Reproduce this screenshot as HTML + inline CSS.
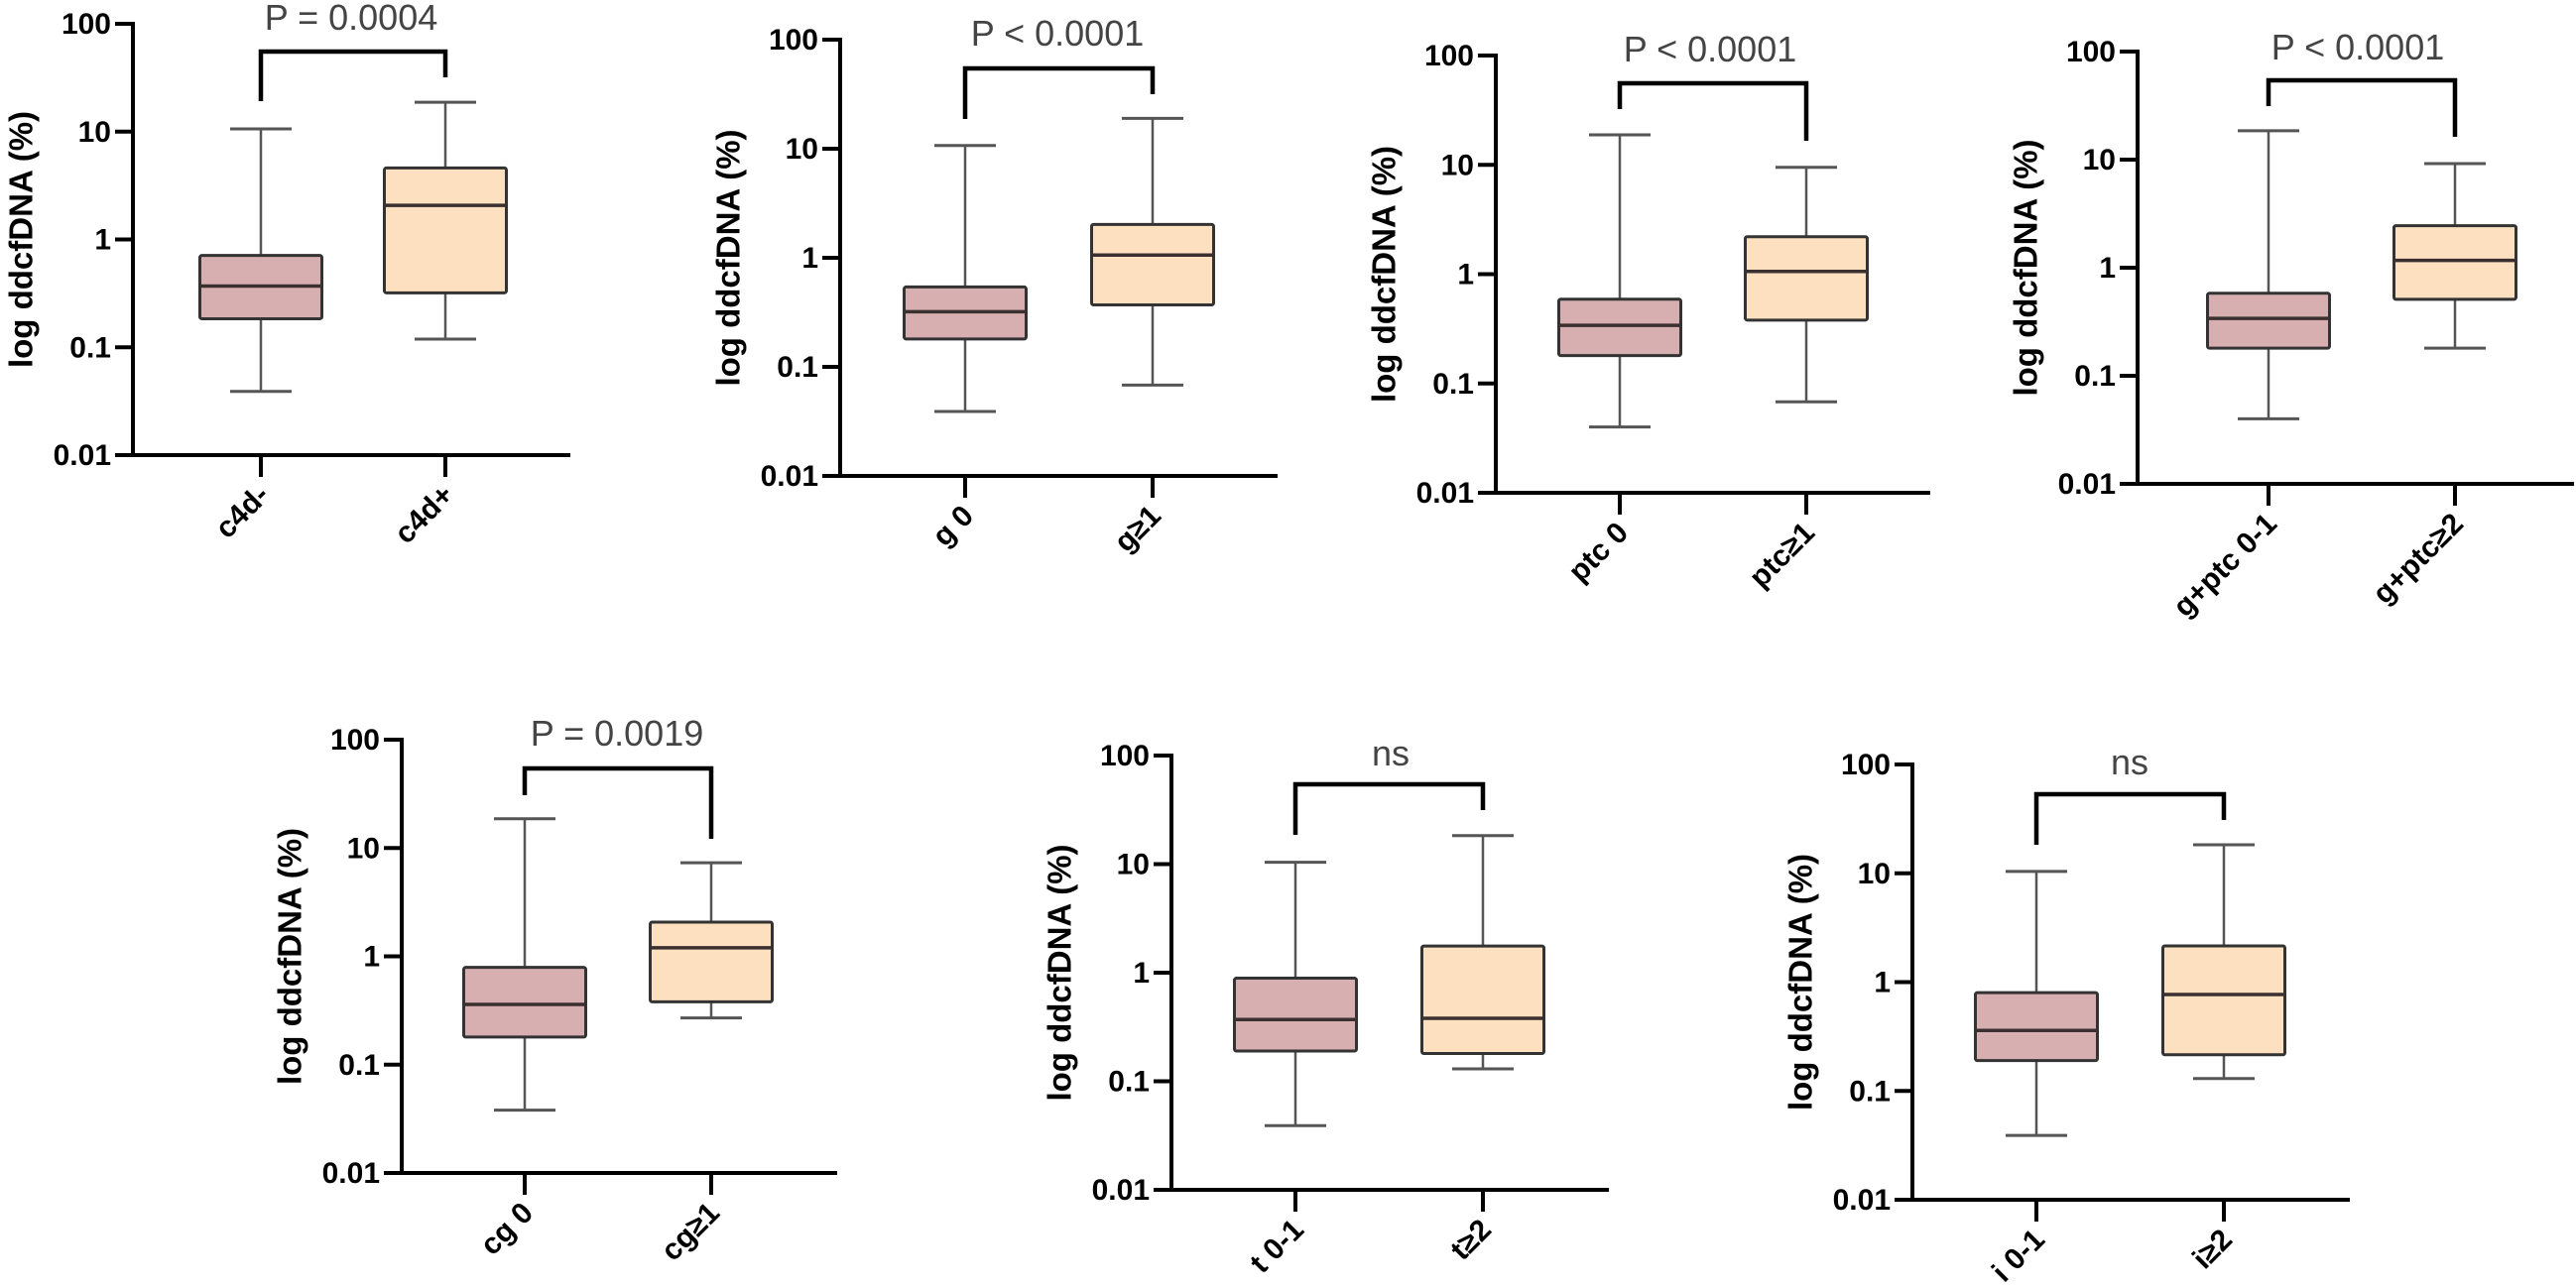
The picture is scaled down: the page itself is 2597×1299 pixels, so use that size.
<!DOCTYPE html>
<html><head><meta charset="utf-8">
<style>
html,body{margin:0;padding:0;background:#fff;}
svg{display:block;}
</style></head>
<body>
<svg id="fig" width="2597" height="1299" viewBox="0 0 2597 1299" xmlns="http://www.w3.org/2000/svg"></svg>
<script>
// ---- data ----
const panelCategories = [["c4d-","c4d+"],["g 0","g≥1"],["ptc 0","ptc≥1"],["g+ptc 0-1","g+ptc≥2"],["cg 0","cg≥1"],["t 0-1","t≥2"],["i 0-1","i≥2"]];
const pLabels = ["P = 0.0004","P < 0.0001","P < 0.0001","P < 0.0001","P = 0.0019","ns","ns"];
const whiskerMax = [[10.6,18.7],[10.7,19],[18.8,9.5],[18.5,9.2],[18.6,7.3],[10.4,18.3],[10.4,18.3]];
const q3Values   = [[0.71,4.6],[0.54,2.02],[0.59,2.2],[0.58,2.45],[0.79,2.07],[0.89,1.76],[0.8,2.15]];
const medianValues=[[0.37,2.07],[0.32,1.06],[0.34,1.06],[0.34,1.17],[0.36,1.2],[0.37,0.38],[0.36,0.77]];
const q1Values   = [[0.184,0.32],[0.18,0.37],[0.18,0.38],[0.18,0.51],[0.18,0.38],[0.19,0.18],[0.19,0.215]];
const whiskerMin = [[0.039,0.119],[0.039,0.068],[0.04,0.068],[0.04,0.18],[0.038,0.27],[0.039,0.13],[0.039,0.13]];
const tickValues = [100,10,1,0.1,0.01];
const tickLabels = ["100","10","1","0.1","0.01"];

// ---- layout (positions only) ----
const layout = [
 {ax:134, top:24, bot:459, t1:263, t2:449, end:575, pcx:354, pcy:18, br:52, bl:102, brr:78},
 {ax:847, top:40, bot:480, t1:973, t2:1162, end:1288, pcx:1066, pcy:34, br:69, bl:120, brr:95},
 {ax:1508, top:56, bot:497, t1:1633, t2:1821, end:1946, pcx:1724, pcy:50, br:84, bl:110, brr:142},
 {ax:2155, top:52, bot:488, t1:2287, t2:2475, end:2595, pcx:2377, pcy:48, br:81, bl:107, brr:138},
 {ax:405, top:746, bot:1183, t1:529, t2:717, end:844, pcx:622, pcy:740, br:775, bl:802, brr:846},
 {ax:1181, top:762, bot:1200, t1:1306, t2:1495, end:1622, pcx:1402, pcy:760, br:791, bl:842, brr:817},
 {ax:1928, top:771, bot:1210, t1:2053, t2:2242, end:2369, pcx:2147, pcy:769, br:801, bl:852, brr:827}
];
const fills = ["#d8afb1","#fde0c0"];
const NS = "http://www.w3.org/2000/svg";
const svg = document.getElementById("fig");
function mk(tag, attrs, parent){
  const e = document.createElementNS(NS, tag);
  for (const k in attrs) e.setAttribute(k, attrs[k]);
  parent.appendChild(e);
  return e;
}
layout.forEach((L, pi) => {
  const g = mk("g", {}, svg);
  
  
  const y = v => L.bot - (Math.log10(v) + 2) / 4 * (L.bot - L.top);
  const xs = [L.t1, L.t2];
  const ym = (L.top + L.bot) / 2;
  const title = mk("text", {x: L.ax - 113, y: ym, transform: `rotate(-90 ${L.ax-113} ${ym})`, "text-anchor":"middle", "dominant-baseline":"central", "font-family":"Liberation Sans, sans-serif", "font-weight":"bold", "font-size":"33", fill:"#000"}, g);
  title.textContent = "log ddcfDNA (%)";
  
  
  for (let i = 0; i < 2; i++) {
    const cx = xs[i], bw = 123, cw = 62;
    const box = mk("g", {}, g);
    
    
    mk("line", {x1:cx, x2:cx, y1:y(whiskerMax[pi][i]), y2:y(q3Values[pi][i]), stroke:"#555", "stroke-width":2.5}, box);
    mk("line", {x1:cx, x2:cx, y1:y(q1Values[pi][i]), y2:y(whiskerMin[pi][i]), stroke:"#555", "stroke-width":2.5}, box);
    mk("line", {x1:cx-cw/2, x2:cx+cw/2, y1:y(whiskerMax[pi][i]), y2:y(whiskerMax[pi][i]), stroke:"#555", "stroke-width":3}, box);
    mk("line", {x1:cx-cw/2, x2:cx+cw/2, y1:y(whiskerMin[pi][i]), y2:y(whiskerMin[pi][i]), stroke:"#555", "stroke-width":3}, box);
    mk("rect", {x:cx-bw/2, y:y(q3Values[pi][i]), width:bw, height:y(q1Values[pi][i]) - y(q3Values[pi][i]), fill:fills[i], stroke:"#333", "stroke-width":3, rx:2}, box);
    mk("line", {x1:cx-bw/2, x2:cx+bw/2, y1:y(medianValues[pi][i]), y2:y(medianValues[pi][i]), stroke:"#3a3030", "stroke-width":3.5}, box);
  }
  const axes = mk("g", {stroke:"#000", "stroke-width":4, fill:"none"}, g);
  
  
  mk("line", {x1:L.ax, x2:L.ax, y1:L.top-2, y2:L.bot+2}, axes);
  mk("line", {x1:L.ax-18, x2:L.end, y1:L.bot, y2:L.bot}, axes);
  tickValues.forEach((v, k) => {
    mk("line", {x1:L.ax-18, x2:L.ax, y1:y(v), y2:y(v)}, axes);
    const t = mk("text", {x:L.ax-22, y:y(v)+10, "text-anchor":"end", "font-family":"Liberation Sans, sans-serif", "font-weight":"bold", "font-size":"30", fill:"#000"}, g);
    t.textContent = tickLabels[k];
    
    
  });
  xs.forEach((cx, i) => {
    mk("line", {x1:cx, x2:cx, y1:L.bot, y2:L.bot+22}, axes);
    const tx = cx + 10, ty = L.bot + 42;
    const t = mk("text", {x:tx, y:ty, transform:`rotate(-45 ${tx} ${ty})`, "text-anchor":"end", "font-family":"Liberation Sans, sans-serif", "font-weight":"bold", "font-size":"30", fill:"#000"}, g);
    t.textContent = panelCategories[pi][i];
    
    
  });
  const br = mk("polyline", {points:`${L.t1},${L.bl} ${L.t1},${L.br} ${L.t2},${L.br} ${L.t2},${L.brr}`, fill:"none", stroke:"#000", "stroke-width":4.5}, g);
  
  
  const pt = mk("text", {x:L.pcx, y:L.pcy+12, "text-anchor":"middle", "font-family":"Liberation Sans, sans-serif", "font-size":"36", fill:"#444"}, g);
  pt.textContent = pLabels[pi];
  
  
});
</script>
</body></html>
